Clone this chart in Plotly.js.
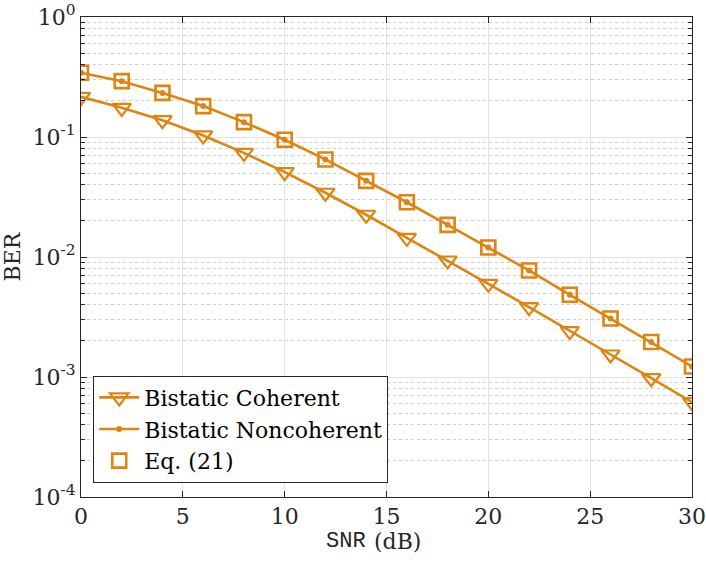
<!DOCTYPE html>
<html>
<head>
<meta charset="utf-8">
<script src="https://cdn.plot.ly/plotly-3.0.1.min.js"></script>
<style>
  html, body { margin: 0; padding: 0; background: #fff; }
  #chart { width: 706px; height: 562px; }
</style>
</head>
<body>
<div id="chart"></div>
<script>
// SNR points (dB)
const snr = [0, 2, 4, 6, 8, 10, 12, 14, 16, 18, 20, 22, 24, 26, 28, 30];

// BER values
const berCoherent = [0.216, 0.175, 0.138, 0.103, 0.0738, 0.0509, 0.0343, 0.0225,
                     0.01445, 0.00935, 0.00598, 0.00382, 0.00241, 0.00154, 0.000977, 0.000617];
const berNoncoherent = [0.343, 0.292, 0.233, 0.181, 0.133, 0.0948, 0.065, 0.0431,
                        0.0286, 0.01854, 0.012, 0.00772, 0.00484, 0.00307, 0.00196, 0.001224];
const berEq21 = [0.343, 0.292, 0.233, 0.181, 0.133, 0.0948, 0.065, 0.0431,
                 0.0286, 0.01854, 0.012, 0.00772, 0.00484, 0.00307, 0.00196, 0.001224];

const seriesNames = ['Bistatic Coherent', 'Bistatic Noncoherent', 'Eq. (21)'];

const xTicks = [0, 5, 10, 15, 20, 25, 30];
const yTicks = [1e-4, 1e-3, 1e-2, 1e-1, 1];
const yTickText = ['10<sup>-4</sup>', '10<sup>-3</sup>', '10<sup>-2</sup>', '10<sup>-1</sup>', '10<sup>0</sup>'];

const orange = '#DF8410';
const frame = '#262626';
const serif = 'DejaVu Serif, serif';
const mono = 'Liberation Mono, monospace';
const fs = 22;

const data = [
    {
        x: snr, y: berCoherent, name: seriesNames[0],
        mode: 'lines+markers', type: 'scatter',
        line: { color: orange, width: 2.6 },
        marker: { symbol: 'triangle-down-open', size: 16, color: orange, line: { width: 2.2, color: orange } }
    },
    {
        x: snr, y: berNoncoherent, name: seriesNames[1],
        mode: 'lines+markers', type: 'scatter',
        line: { color: orange, width: 2.6 },
        marker: { symbol: 'circle', size: 6, color: orange }
    },
    {
        x: snr, y: berEq21, name: seriesNames[2],
        mode: 'markers', type: 'scatter',
        marker: { symbol: 'square-open', size: 14, color: orange, line: { width: 2.6, color: orange } }
    }
];

const layout = {
    width: 706, height: 562,
    margin: { l: 81, r: 14, t: 17, b: 65 },
    paper_bgcolor: '#fff', plot_bgcolor: '#fff',
    font: { family: serif, size: fs, color: '#262626' },
    showlegend: true,
    legend: {
        x: 0.02, y: 0.03, xanchor: 'left', yanchor: 'bottom',
        bgcolor: '#fff', bordercolor: frame, borderwidth: 1,
        font: { family: serif, size: fs, color: '#000' },
        tracegroupgap: 0, itemwidth: 40
    },
    xaxis: {
        range: [0, 30],
        tickvals: xTicks,
        ticks: 'inside', ticklen: 6, tickcolor: frame,
        showline: true, linecolor: frame, linewidth: 1, mirror: 'ticks',
        showgrid: true, gridcolor: '#e3e3e3', gridwidth: 1,
        zeroline: false,
        tickfont: { family: serif, size: fs, color: '#262626' }
    },
    yaxis: {
        type: 'log',
        range: [-4, 0],
        tickvals: yTicks, ticktext: yTickText,
        ticks: 'inside', ticklen: 6, tickcolor: frame,
        showline: true, linecolor: frame, linewidth: 1, mirror: 'ticks',
        showgrid: true, gridcolor: '#e3e3e3', gridwidth: 1,
        zeroline: false,
        tickfont: { family: serif, size: fs, color: '#262626' },
        minor: {
            dtick: 'D1', ticks: 'inside', ticklen: 4, tickcolor: frame,
            showgrid: true, gridcolor: '#cfcfcf', griddash: 'dot', gridwidth: 1
        },
        title: {
            text: 'BER',
            font: { family: serif, size: fs, color: '#262626' },
            standoff: 8
        }
    },
    // x-axis title split in two: "SNR" in typewriter, "(dB)" in serif
    annotations: [
        {
            text: 'SNR', xref: 'paper', yref: 'paper', x: 0.47, y: -0.092,
            xanchor: 'right', yanchor: 'middle', showarrow: false,
            font: { family: mono, size: fs, color: '#262626' }
        },
        {
            text: '(dB)', xref: 'paper', yref: 'paper', x: 0.477, y: -0.092,
            xanchor: 'left', yanchor: 'middle', showarrow: false,
            font: { family: serif, size: fs, color: '#262626' }
        }
    ]
};

Plotly.newPlot('chart', data, layout, { staticPlot: true, displayModeBar: false });
</script>
</body>
</html>
